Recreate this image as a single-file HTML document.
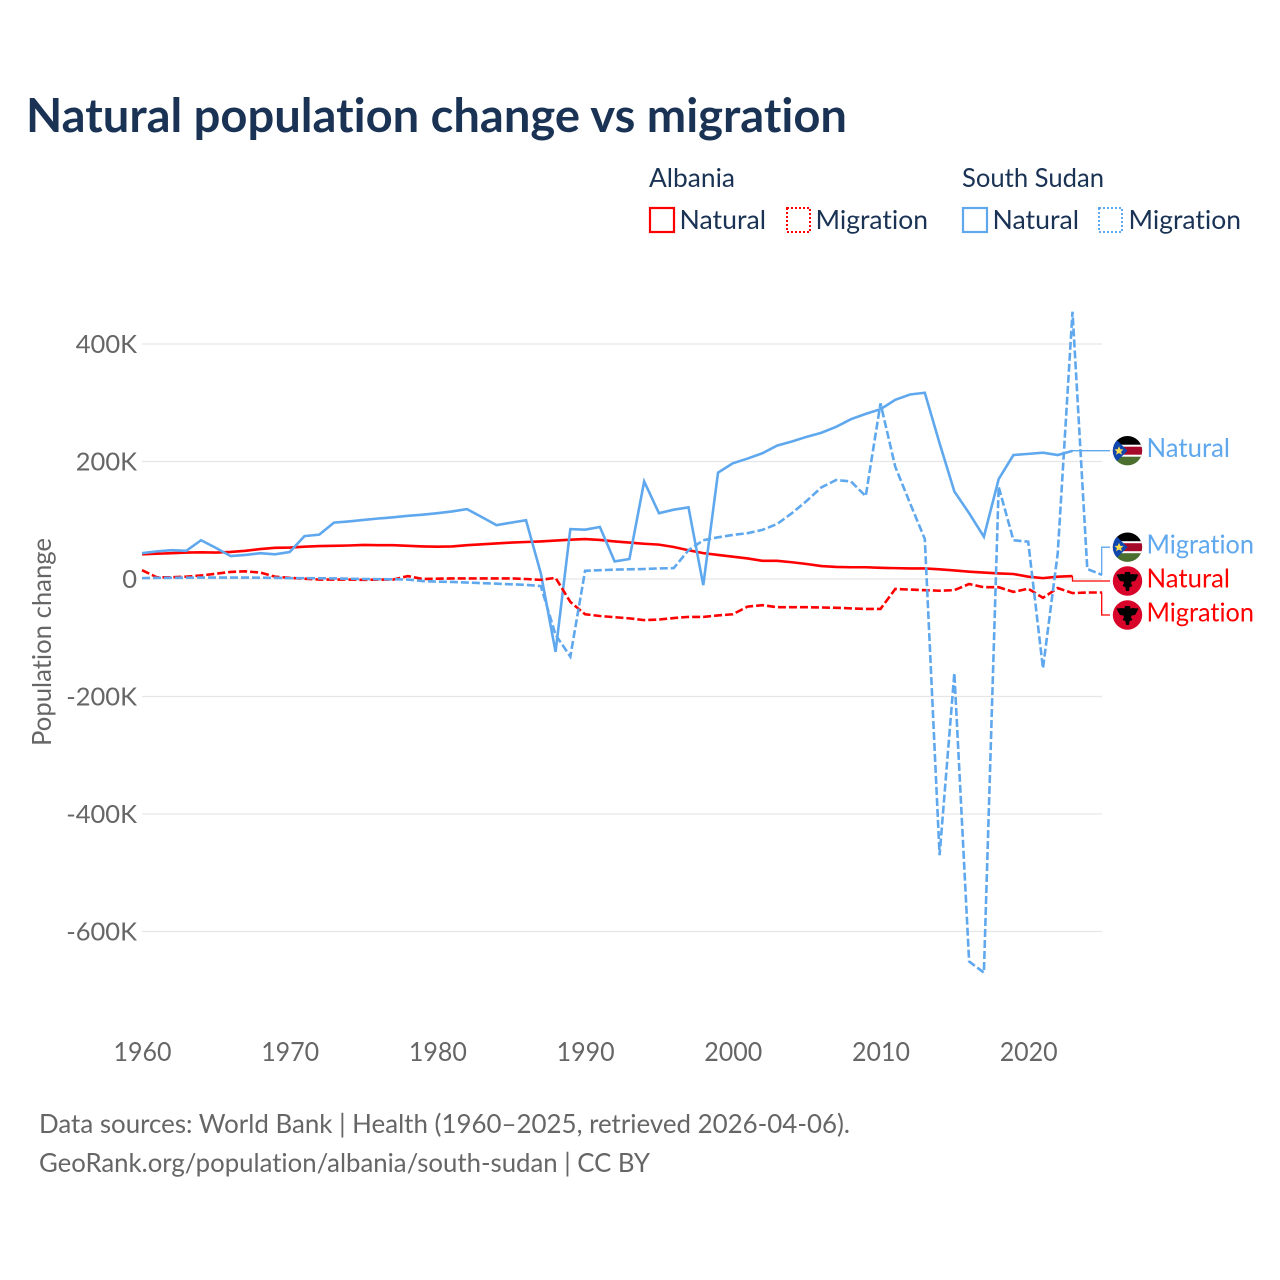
<!DOCTYPE html>
<html lang="en">
<head>
<meta charset="utf-8">
<title>Natural population change vs migration</title>
<style>
html,body{margin:0;padding:0;background:#fff;width:1280px;height:1280px;overflow:hidden}
svg{display:block}
text{font-family:"Lato","Carlito","Liberation Sans",sans-serif;font-variant-ligatures:none;font-feature-settings:"liga" 0,"clig" 0}
</style>
</head>
<body>
<svg id="chart" xmlns="http://www.w3.org/2000/svg" width="1280" height="1280" viewBox="0 0 1280 1280">
  <defs>
    <clipPath id="flag-clip"><circle cx="0" cy="0" r="14.7"/></clipPath>
    <g id="flag-ss" clip-path="url(#flag-clip)">
      <rect x="-15" y="-15" width="30" height="10" fill="#000"/>
      <rect x="-15" y="-5" width="30" height="10" fill="#a50a2a"/>
      <rect x="-15" y="5" width="30" height="10" fill="#4a6f2e"/>
      <rect x="-15" y="-6" width="30" height="2" fill="#fff"/>
      <rect x="-15" y="4" width="30" height="2" fill="#fff"/>
      <polygon points="-15,-15 0,0 -15,15" fill="#0f47af"/>
      <polygon points="-8.5,-4.5 -7.2,-1.4 -4,-1.2 -6.4,0.9 -5.6,4 -8.5,2.3 -11.4,4 -10.6,0.9 -13,-1.2 -9.8,-1.4" fill="#fcdd50"/>
    </g>
    <g id="flag-al" clip-path="url(#flag-clip)">
      <rect x="-15" y="-15" width="30" height="30" fill="#d8042a"/>
      <path d="M-2.5-9 L2.5-9 L3-6.5 L5-7 L11-6.5 L9-2.5 L7.5 0 L4 0.5 L3.5 2.5 L5 5 L2.2 6 L1.4 10 L-1.4 10 L-2.2 6 L-5 5 L-3.5 2.5 L-4 0.5 L-7.5 0 L-9-2.5 L-11-6.5 L-5-7 L-3-6.5 Z" fill="#000"/>
    </g>
  </defs>

  <rect x="0" y="0" width="1280" height="1280" fill="#ffffff"/>

  <text x="26" y="132" font-size="47" font-weight="700" fill="#1a3355" textLength="821" lengthAdjust="spacingAndGlyphs">Natural population change vs migration</text>

  <g>
    <text x="649" y="187" font-size="26.5" fill="#1a3355" textLength="86" lengthAdjust="spacingAndGlyphs">Albania</text>
    <text x="962" y="187" font-size="26.5" fill="#1a3355" textLength="142" lengthAdjust="spacingAndGlyphs">South Sudan</text>

    <rect x="650" y="208" width="24" height="24" fill="none" stroke="#ff0000" stroke-width="2.2"/>
    <text x="679.5" y="229" font-size="26.5" fill="#1a3355" textLength="86.5" lengthAdjust="spacingAndGlyphs">Natural</text>
    <rect x="787" y="208" width="23" height="24" fill="none" stroke="#ff0000" stroke-width="2" stroke-dasharray="2 2"/>
    <text x="815.5" y="229" font-size="26.5" fill="#1a3355" textLength="112.5" lengthAdjust="spacingAndGlyphs">Migration</text>

    <rect x="963" y="208" width="24" height="24" fill="none" stroke="#5fa8ee" stroke-width="2.2"/>
    <text x="992.5" y="229" font-size="26.5" fill="#1a3355" textLength="86.5" lengthAdjust="spacingAndGlyphs">Natural</text>
    <rect x="1099" y="208" width="23" height="24" fill="none" stroke="#5fa8ee" stroke-width="2" stroke-dasharray="2 2"/>
    <text x="1128.5" y="229" font-size="26.5" fill="#1a3355" textLength="112.5" lengthAdjust="spacingAndGlyphs">Migration</text>
  </g>

  <text transform="translate(51,642) rotate(-90)" text-anchor="middle" font-size="26" fill="#666666" textLength="208" lengthAdjust="spacingAndGlyphs">Population change</text>

  <g id="grid"></g>
  <g id="y-ticks"></g>
  <g id="x-ticks"></g>
  <g id="connectors"></g>
  <g id="series"></g>
  <g id="end-labels"></g>

  <text x="39" y="1133" font-size="26.5" fill="#666666" textLength="811" lengthAdjust="spacingAndGlyphs">Data sources: World Bank | Health (1960–2025, retrieved 2026-04-06).</text>
  <text x="39" y="1172" font-size="26.5" fill="#666666" textLength="611" lengthAdjust="spacingAndGlyphs">GeoRank.org/population/albania/south-sudan | CC BY</text>
</svg>

<script>
const years = [1960,1961,1962,1963,1964,1965,1966,1967,1968,1969,1970,1971,1972,1973,1974,1975,1976,1977,1978,1979,1980,1981,1982,1983,1984,1985,1986,1987,1988,1989,1990,1991,1992,1993,1994,1995,1996,1997,1998,1999,2000,2001,2002,2003,2004,2005,2006,2007,2008,2009,2010,2011,2012,2013,2014,2015,2016,2017,2018,2019,2020,2021,2022,2023,2024,2025];
const albaniaNatural = [42,43,44,45,45.5,45,46,48,51,53,53.5,55,56,56.5,57,58,57.5,57.5,56.5,55.5,55,55.5,57.5,59,60.5,62,63,64,65.5,67,68,66.5,64,62,60,58.5,54.5,49,44,41,38,35,31,31,28.5,25.5,22,20.5,20,20,19,18.5,18,18,16.5,14.5,12.5,11,9.5,8.5,4,1.5,4,5];
const albaniaMigration = [15,3,3,4,6,9,12,13,11,4,2,0.5,-1,-1,-1,-1.5,-1,-1,5,0,0.5,1,1,1,1,1,0,-1.5,2,-39,-60,-63,-65,-67,-70,-69,-66.5,-64.5,-64.5,-62,-60,-47,-44.6,-48,-48,-48,-48.5,-49,-50,-51,-51,-17,-18,-19,-20,-19,-8.5,-14,-14,-22,-16.5,-32,-15.5,-24,-23,-23];
const sudanNatural = [44,47,49,48,66,53,39,41,44,42,46,73,75.5,96,98,100.5,103,105,107.5,109.5,112,115,119,105.5,91.6,96,100,10,-124,85,84,88.5,30,34,166,112,118,122,-10.5,181,197,205,214,227,234,242,249,259,272,281,289,305,314,317,231,149,112,72,170,211,213,215,211,218];
const sudanMigration = [1.5,2,2,2.2,2.5,2.5,2.5,2.5,2.2,2,1.5,1.5,1.2,1,0.5,0,-0.2,-0.5,-1,-3.5,-4.5,-5,-6,-7,-8,-9,-10,-12,-95,-132,14,15,16,16.5,17,18,18.5,49,66,71,75,78,83.5,93.6,112,133,156,168.5,166,141,299,191,129,68,-470,-160,-651,-670,157,66,63.5,-152,44,455,17,7];
const yTickValues = [400,200,0,-200,-400,-600];
const yTickLabels = ["400K","200K","0","-200K","-400K","-600K"];
const xTickValues = [1960,1970,1980,1990,2000,2010,2020];
const labelNatural = "Natural";
const labelMigration = "Migration";

const SVG_NS = "http://www.w3.org/2000/svg";
const BLUE = "#5fa8ee";
const RED = "#ff0000";
const X_START = 142, X_PER_YEAR = 14.77, Y_ZERO = 579, Y_PER_K = 0.5875;
function xScale(year){ return X_START + (year - years[0]) * X_PER_YEAR; }
function yScale(value){ return Y_ZERO - value * Y_PER_K; }
function make(tag, parent){
  const el = document.createElementNS(SVG_NS, tag);
  document.getElementById(parent).appendChild(el);
  return el;
}

yTickValues.forEach(function(v, i){
  const line = make("line", "grid");
  
  
  line.setAttribute("x1", X_START);
  line.setAttribute("x2", xScale(years[years.length - 1]));
  line.setAttribute("y1", yScale(v));
  line.setAttribute("y2", yScale(v));
  line.setAttribute("stroke", "#e6e6e6");
  line.setAttribute("stroke-width", "1.2");
  const t = make("text", "y-ticks");
  
  
  t.setAttribute("x", 137);
  t.setAttribute("y", yScale(v) + 9);
  t.setAttribute("text-anchor", "end");
  t.setAttribute("font-size", "25.5");
  t.setAttribute("fill", "#666666");
  t.textContent = yTickLabels[i];
});

xTickValues.forEach(function(v){
  const t = make("text", "x-ticks");
  
  
  t.setAttribute("x", xScale(v) + 0.5);
  t.setAttribute("y", 1061);
  t.setAttribute("text-anchor", "middle");
  t.setAttribute("font-size", "26");
  t.setAttribute("fill", "#666666");
  t.setAttribute("textLength", "58");
  t.setAttribute("lengthAdjust", "spacingAndGlyphs");
  t.textContent = String(v);
});

function drawSeries(values, color, dashed, name){
  const p = make("polyline", "series");
  
  
  p.setAttribute("points", values.map(function(v, i){
    return xScale(years[i]).toFixed(2) + "," + yScale(v).toFixed(2);
  }).join(" "));
  p.setAttribute("fill", "none");
  p.setAttribute("stroke", color);
  p.setAttribute("stroke-width", "2.6");
  p.setAttribute("stroke-linejoin", "miter");
  if (dashed) p.setAttribute("stroke-dasharray", "8 3");
}
drawSeries(albaniaNatural, RED, false, "line-albania-natural");
drawSeries(sudanNatural, BLUE, false, "line-south-sudan-natural");
drawSeries(albaniaMigration, RED, true, "line-albania-migration");
drawSeries(sudanMigration, BLUE, true, "line-south-sudan-migration");

function drawEndLabel(values, color, flag, text, labelY, width, name){
  const lastIndex = values.length - 1;
  const sx = xScale(years[lastIndex]);
  const sy = yScale(values[lastIndex]);
  const elbow = lastIndex === years.length - 1 ? 1101.7 : sx;
  const c = make("polyline", "connectors");
  
  
  c.setAttribute("points", sx + "," + sy + " " + elbow + "," + sy + " " + elbow + "," + labelY + " 1110," + labelY);
  c.setAttribute("fill", "none");
  c.setAttribute("stroke", color);
  c.setAttribute("stroke-width", "1.3");
  const u = make("use", "end-labels");
  
  
  u.setAttribute("href", flag);
  u.setAttribute("transform", "translate(1127.5," + labelY + ")");
  const t = make("text", "end-labels");
  
  
  t.setAttribute("x", 1146.5);
  t.setAttribute("y", labelY + 6.5);
  t.setAttribute("font-size", "26.5");
  t.setAttribute("fill", color);
  t.setAttribute("textLength", width);
  t.setAttribute("lengthAdjust", "spacingAndGlyphs");
  t.textContent = text;
}
drawEndLabel(sudanNatural, BLUE, "#flag-ss", labelNatural, 450.7, 83.5, "end-south-sudan-natural");
drawEndLabel(sudanMigration, BLUE, "#flag-ss", labelMigration, 547.2, 107.5, "end-south-sudan-migration");
drawEndLabel(albaniaNatural, RED, "#flag-al", labelNatural, 581, 83.5, "end-albania-natural");
drawEndLabel(albaniaMigration, RED, "#flag-al", labelMigration, 615, 107.5, "end-albania-migration");
</script>
</body>
</html>
